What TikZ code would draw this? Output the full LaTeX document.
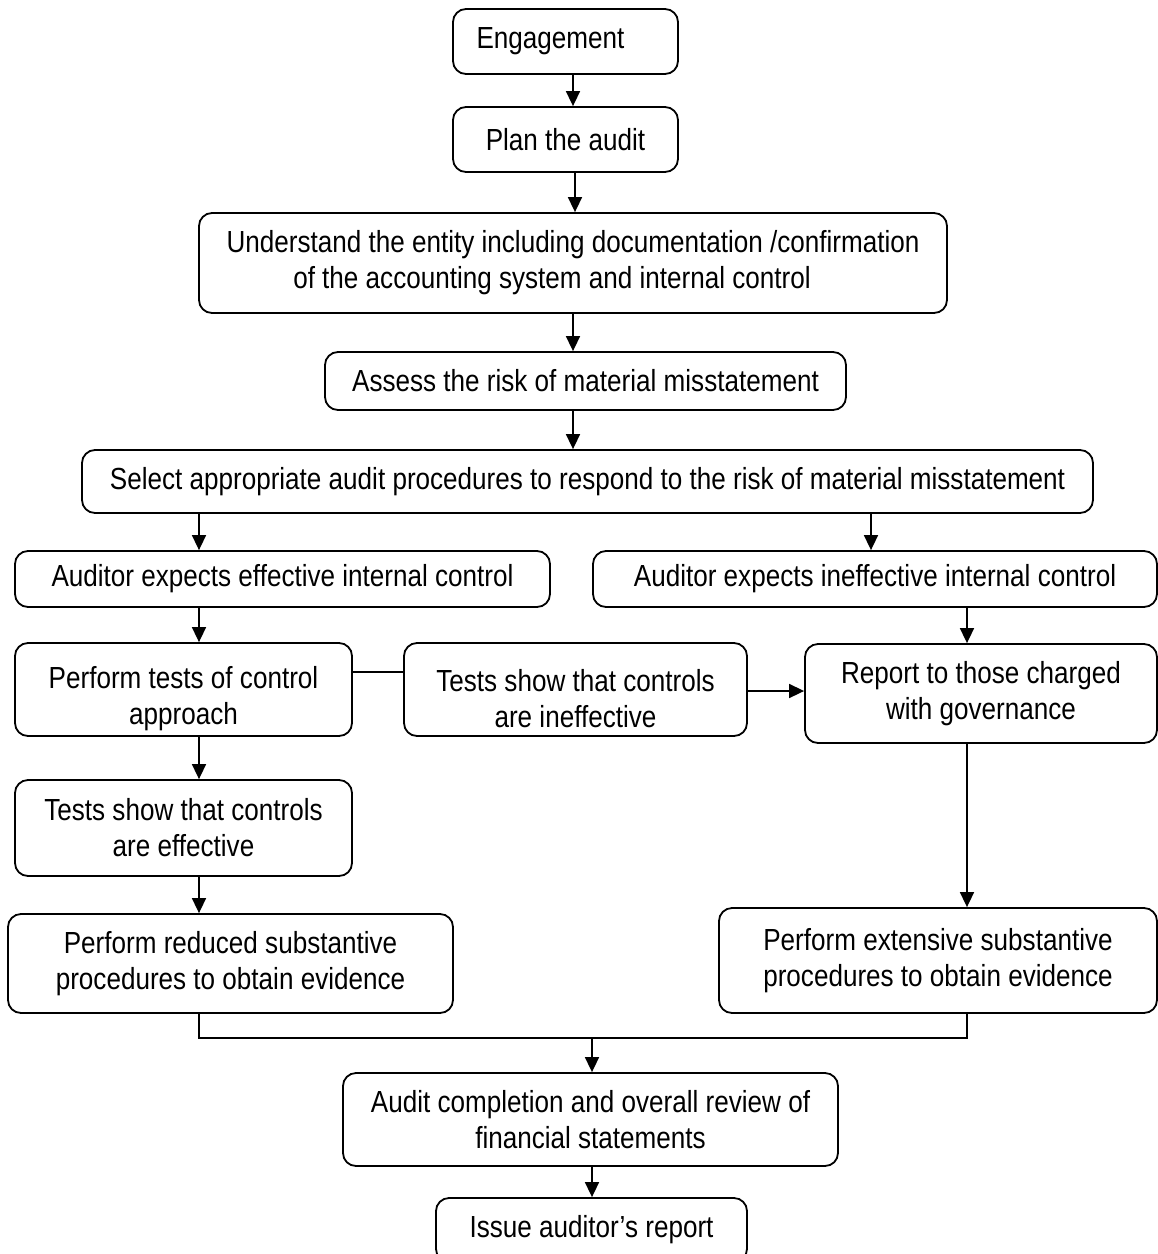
\documentclass[tikz,border=0pt]{standalone}
\usepackage{fontspec}
\setmainfont{Liberation Sans}[FakeStretch=0.855]
\usetikzlibrary{arrows.meta}
\begin{document}
\begin{tikzpicture}[x=1pt,y=-1pt,
  box/.style={draw, line width=1.8pt, rounded corners=13pt, align=center, inner sep=0pt,
              font=\fontsize{30.5}{36}\selectfont},
  arr/.style={line width=1.6pt, -{Triangle[length=15pt,width=14pt]}},
  ln/.style={line width=1.6pt}]
\useasboundingbox (0,0) rectangle (1158,1254);
% nodes
\node[box, minimum width=225pt, minimum height=65pt] (eng) at (565.5,41.5) {Engagement\rule{30pt}{0pt}};
\node[box, minimum width=225pt, minimum height=65pt] (plan) at (565.5,139.5) {Plan the audit};
\node[box, minimum width=748pt, minimum height=100pt] (und) at (573,263)
  {Understand the entity including documentation /confirmation\\ of the accounting system and internal control\rule{42pt}{0pt}};
\node[box, minimum width=521pt, minimum height=58pt] (ass) at (585.5,381) {Assess the risk of material misstatement};
\node[box, minimum width=1011pt, minimum height=63pt] (sel) at (587.5,481.5)
  {Select appropriate audit procedures to respond to the risk of material misstatement};
\node[box, minimum width=535pt, minimum height=56pt] (aeff) at (282.5,579) {Auditor expects effective internal control};
\node[box, minimum width=564pt, minimum height=56pt] (ainef) at (875,579) {Auditor expects ineffective internal control};
\node[box, minimum width=337pt, minimum height=93pt] (ptc) at (183.5,689.5) {\rule{0pt}{40pt}Perform tests of control\\ approach};
\node[box, minimum width=343pt, minimum height=93pt] (tsi) at (575.5,689.5) {\rule{0pt}{40pt}Tests show that controls\\ are ineffective};
\node[box, minimum width=352pt, minimum height=99pt] (rep) at (981,693.5) {Report to those charged\\ with governance};
\node[box, minimum width=337pt, minimum height=96pt] (tse) at (183.5,828) {Tests show that controls\\ are effective};
\node[box, minimum width=445pt, minimum height=99pt] (prs) at (230.5,963.5) {Perform reduced substantive\\ procedures to obtain evidence};
\node[box, minimum width=438pt, minimum height=105pt] (pes) at (938,960.5) {Perform extensive substantive\\ procedures to obtain evidence};
\node[box, minimum width=495pt, minimum height=93pt] (acr) at (590.5,1119.5) {Audit completion and overall review of\\ financial statements};
\node[box, minimum width=311pt, minimum height=64pt] (iss) at (591.5,1230) {Issue auditor’s report};
% helper coordinates
\coordinate (xa) at (573,0);
\coordinate (xa2) at (575,0);
\coordinate (xL) at (199,0);
\coordinate (xR) at (871,0);
\coordinate (xR2) at (967,0);
\coordinate (xB) at (592,0);
\coordinate (yt) at (0,672);
\coordinate (ya) at (0,691);
\coordinate (jn) at (592,1038);
% connectors
\draw[arr] (eng.south -| xa) -- (plan.north -| xa);
\draw[arr] (plan.south -| xa2) -- (und.north -| xa2);
\draw[arr] (und.south -| xa) -- (ass.north -| xa);
\draw[arr] (ass.south -| xa) -- (sel.north -| xa);
\draw[arr] (sel.south -| xL) -- (aeff.north -| xL);
\draw[arr] (sel.south -| xR) -- (ainef.north -| xR);
\draw[arr] (aeff.south -| xL) -- (ptc.north -| xL);
\draw[arr] (ainef.south -| xR2) -- (rep.north -| xR2);
\draw[ln] (ptc.east |- yt) -- (tsi.west |- yt);
\draw[arr] (tsi.east |- ya) -- (rep.west |- ya);
\draw[arr] (ptc.south -| xL) -- (tse.north -| xL);
\draw[arr] (tse.south -| xL) -- (prs.north -| xL);
\draw[arr] (rep.south -| xR2) -- (pes.north -| xR2);
\draw[ln] (prs.south -| xL) -- (xL |- jn) -- (xR2 |- jn) -- (pes.south -| xR2);
\draw[arr] (jn) -- (acr.north -| jn);
\draw[arr] (acr.south -| xB) -- (iss.north -| xB);
\end{tikzpicture}
\end{document}
